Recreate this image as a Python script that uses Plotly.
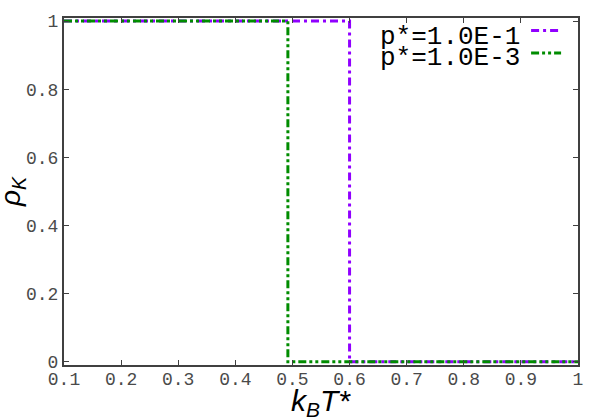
import plotly.graph_objects as go

# Data: reduced temperature breakpoints and order parameter
T_p1 = [0.1, 0.6, 0.6, 1.0]
rho_p1 = [1.0, 1.0, 0.0, 0.0]
T_p3 = [0.1, 0.492, 0.492, 1.0]
rho_p3 = [1.0, 1.0, 0.0, 0.0]
labels = ["p*=1.0E-1", "p*=1.0E-3"]
colors = ["#9000ff", "#008c00"]
dashes = ["8px,4px,3px,4px", "8px,3px,3px,3px,3px,3px"]

MONO = "Liberation Mono, Courier New, monospace"

fig = go.Figure()
for T, r, c, d in [(T_p1, rho_p1, colors[0], dashes[0]), (T_p3, rho_p3, colors[1], dashes[1])]:
    fig.add_trace(go.Scatter(x=T, y=r, mode="lines", name=" ",
                             line=dict(color=c, width=3, dash=d)))

axis_common = dict(showline=True, linecolor="#404040", linewidth=2, mirror="allticks",
                   ticks="inside", ticklen=5, tickwidth=1, tickcolor="#404040",
                   showgrid=False, zeroline=False,
                   tickfont=dict(family=MONO, size=18, color="#4a4a4a"))

fig.update_xaxes(range=[0.1, 1.0], tick0=0.1, dtick=0.1, ticklabelstandoff=-4, **axis_common)
fig.update_yaxes(range=[-0.0095, 1.009], tick0=0, dtick=0.2, **axis_common)

fig.update_layout(
    width=599, height=420,
    font=dict(family=MONO, size=18, color="#404040"),
    margin=dict(l=64, r=21, t=14, b=55),
    plot_bgcolor="white", paper_bgcolor="white",
    showlegend=True,
    legend=dict(x=0.899, y=1.011, xanchor="left", yanchor="top",
                bgcolor="rgba(0,0,0,0)", font=dict(size=15), itemwidth=30,
                tracegroupgap=0),
    annotations=[
        dict(text=labels[0], xref="paper", yref="paper", x=0.891, y=0.945,
             xanchor="right", yanchor="middle", showarrow=False,
             font=dict(family=MONO, size=26, color="#000")),
        dict(text=labels[1], xref="paper", yref="paper", x=0.891, y=0.886,
             xanchor="right", yanchor="middle", showarrow=False,
             font=dict(family=MONO, size=26, color="#000")),
        dict(text="<i>k<sub>B</sub>T*</i>", xref="paper", yref="paper", x=0.5, y=-0.05,
             xanchor="center", yanchor="top", showarrow=False,
             font=dict(family="Liberation Sans", size=30, color="#000")),
        dict(text="<i>ρ<sub>K</sub></i>", xref="paper", yref="paper", x=-0.1, y=0.5,
             xanchor="center", yanchor="middle", showarrow=False, textangle=-90,
             font=dict(family="Liberation Sans", size=28, color="#000")),
    ],
)

fig.write_html("out.html", config={"displayModeBar": False},
               post_script="document.body.style.margin='0';")
